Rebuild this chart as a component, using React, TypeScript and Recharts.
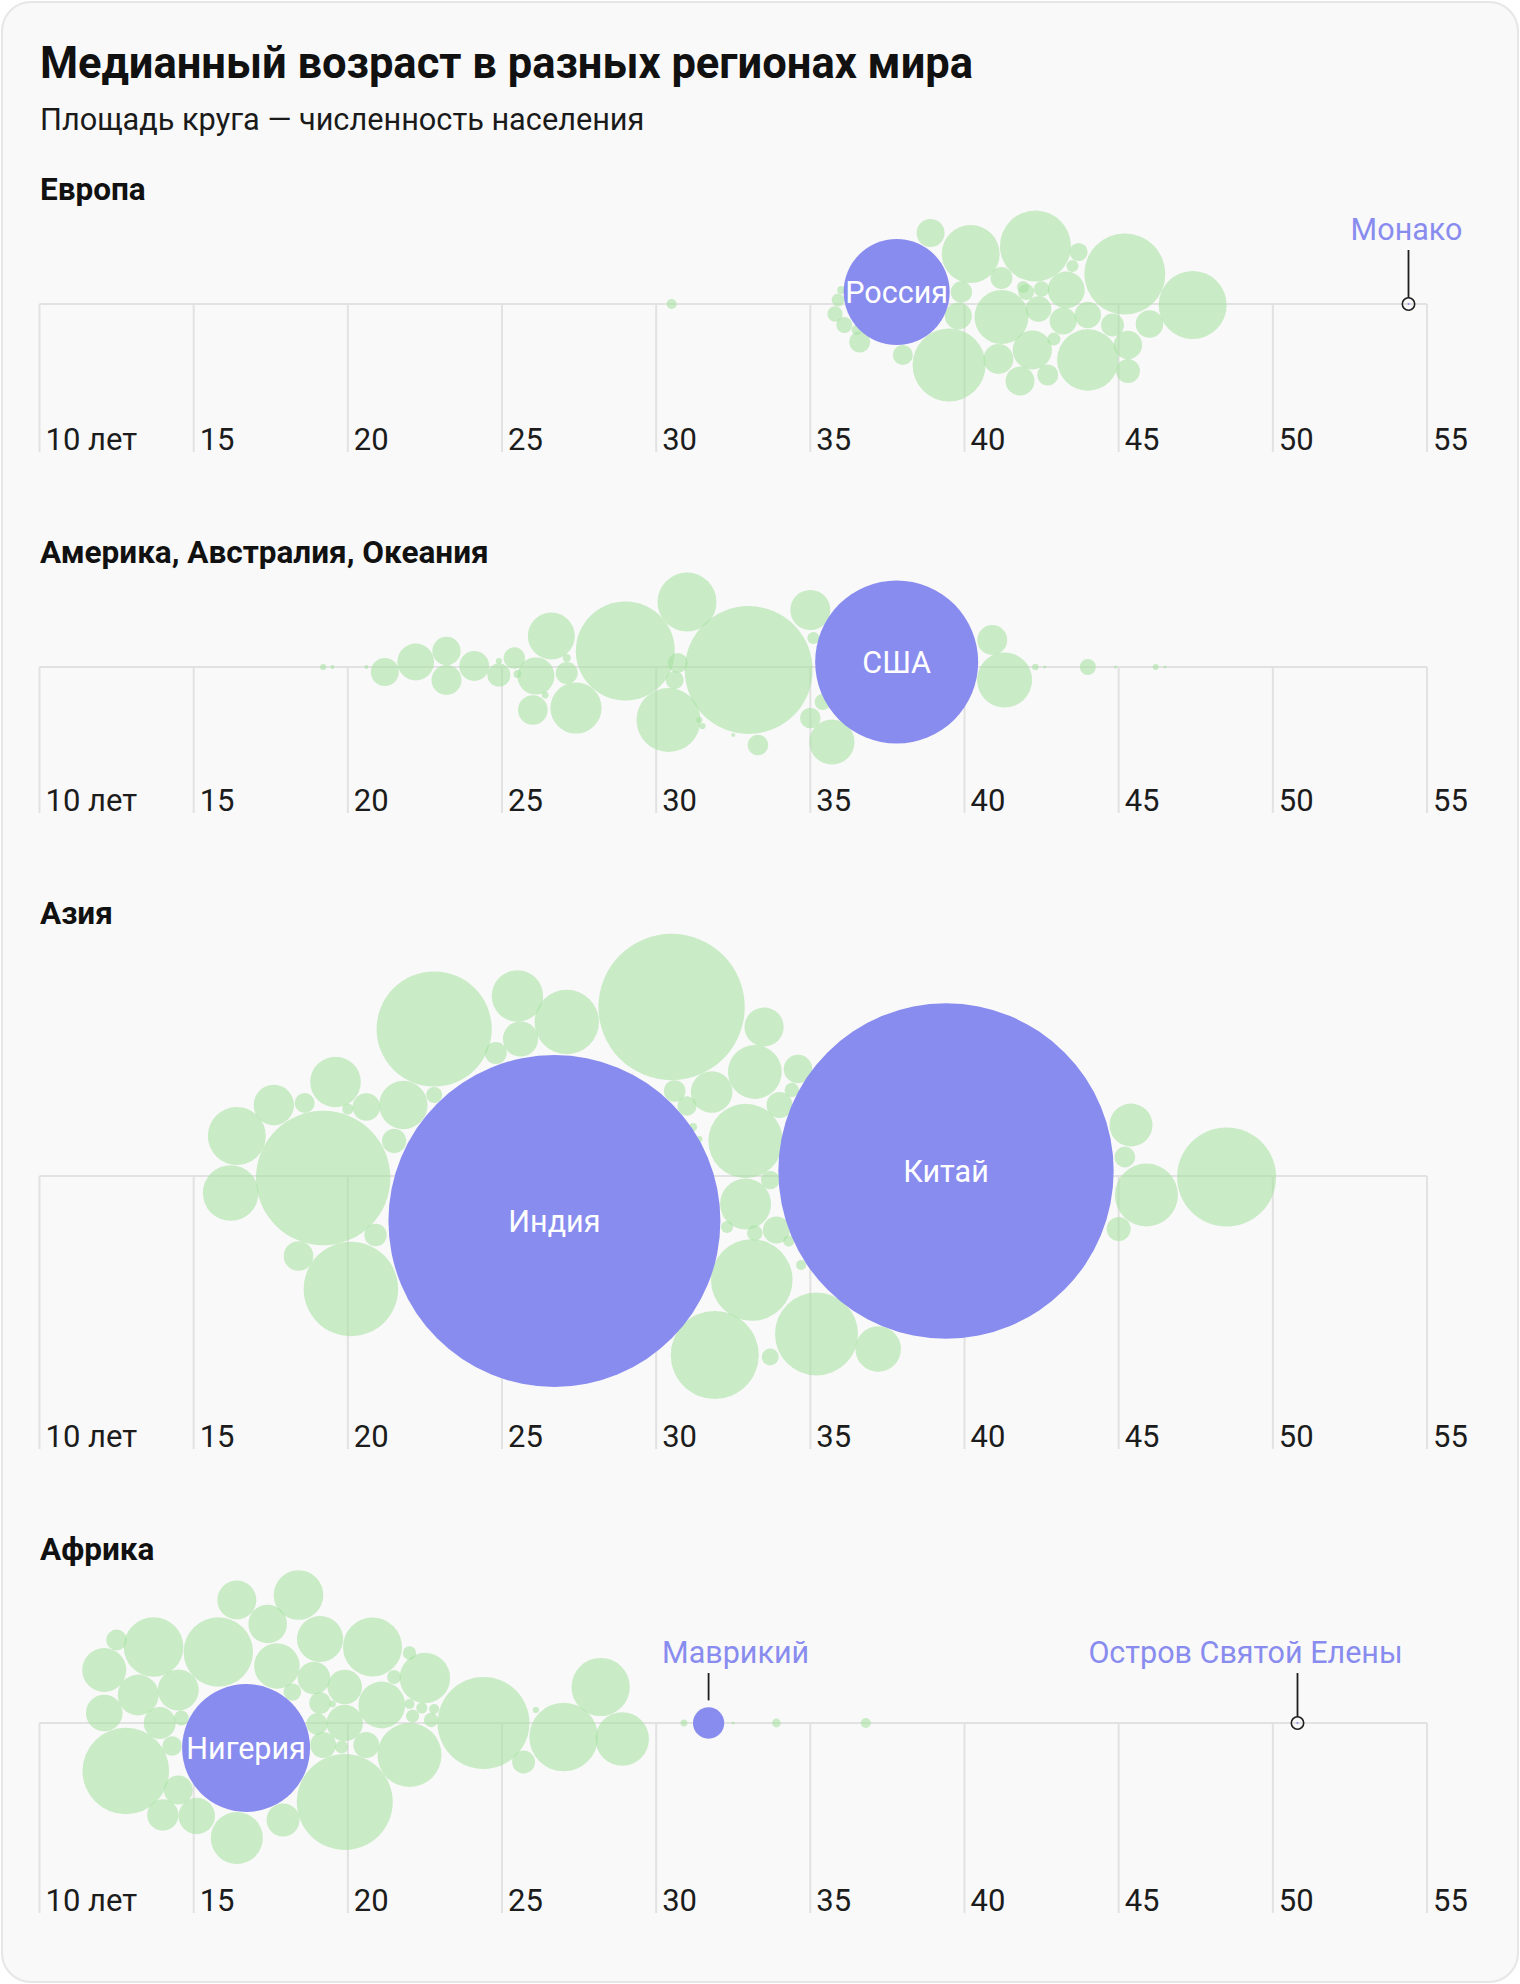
import React from "react";
import { ScatterChart, Scatter, XAxis, YAxis, ZAxis, ReferenceLine } from "recharts";

// Медианный возраст, смещение в «рое» (над осью — плюс), население, млн
type Bubble = [number, number, number];

const ticks = [10, 15, 20, 25, 30, 35, 40, 45, 50, 55];
const tickLabels = ["10 лет", "15", "20", "25", "30", "35", "40", "45", "50", "55"];

const europe: Bubble[] = [
  [38.9, 71, 10.1], [40.2, 50, 43.4], [42.3, 58, 65], [43.7, 52, 4.2], [43.5, 38, 1.9],
  [45.2, 30, 84.6], [47.4, -1, 59.6], [41.2, 26, 6.2], [41.9, 17, 1.9], [42.0, 12, 3.3],
  [42.5, 15, 3.1], [43.3, 14, 17.7], [39.9, 12, 5.9], [39.8, -12, 9.4], [41.2, -13, 37.6],
  [42.4, -5, 8.5], [43.2, -17, 9.4], [44.0, -11, 9.0], [44.8, -21, 6.8], [46.0, -20, 9.8],
  [45.3, -41, 10.4], [45.3, -67, 7.4], [44.0, -56, 48.6], [42.2, -46, 19.8], [41.1, -55, 11.6],
  [41.8, -77, 10.8], [42.7, -71, 5.7], [42.9, -35, 2.2], [39.5, -61, 68.7], [38.0, -51, 5.2],
  [36.6, -38, 5.7], [36.1, -21, 3.3], [35.8, -10, 3.0], [35.9, 4, 2.1], [36.0, 14, 0.8],
  [36.5, -26, 1.3], [30.5, 0, 1.3],
];

const america: Bubble[] = [
  [33.0, -3, 211], [29.0, 16, 126.4], [31.0, 65, 44.9], [30.4, -53, 52.8], [26.6, 31, 28.5],
  [27.4, -41, 33.8], [26.1, -9, 17.8], [26.0, -43, 11.3], [27.1, -6, 6.2], [35.0, 57, 20.6],
  [35.7, -75, 26.3], [35.0, -51, 5.5], [35.4, -35, 3.3], [35.1, 29, 1.9], [33.3, -78, 5.5],
  [40.9, 27, 11.6], [41.3, -13, 39], [30.7, 4, 5.2], [30.6, -13, 4.2], [21.2, -5, 10.1],
  [22.2, 5, 17.5], [23.2, 16, 10.3], [23.2, -13, 11.6], [24.1, 1, 11.6], [24.9, -8, 6.9],
  [25.4, 9, 5.9], [25.5, -7, 0.8], [24.9, 6, 0.5], [27.1, 9, 0.8], [26.4, -28, 0.6],
  [19.2, 0, 0.5], [19.5, 0, 0.2], [20.6, 0, 0.2], [32.5, -68, 0.2], [31.4, -53, 0.5],
  [31.5, -59, 0.5], [42.3, 0, 0.56], [42.6, 0, 0.12], [44.0, 0, 3.3], [44.9, 0, 0.12],
  [46.2, 0, 0.46], [46.5, 0, 0.12],
];

const asia: Bubble[] = [
  [30.5, 169, 276], [22.8, 147, 171], [19.2, -2, 233], [25.5, 180, 34], [27.1, 154, 53.5],
  [25.6, 137, 16], [24.8, 123, 6.2], [16.4, 40, 43.4], [16.2, -17, 39.9], [17.6, 71, 21],
  [18.6, 73, 5.2], [19.6, 94, 33], [20.0, 67, 1.6], [20.6, 69, 9.8], [21.8, 71, 30.2],
  [22.8, 81, 3.3], [21.5, 35, 7.6], [20.9, -59, 6.5], [18.4, -80, 11.3], [20.1, -113, 115],
  [30.6, 85, 6], [31.0, 70, 4.8], [31.8, 84, 22.3], [33.2, 104, 37.3], [33.5, 149, 19.8],
  [32.9, 35, 71.4], [32.9, -28, 33.5], [33.7, -4, 4.5], [33.1, -104, 85.9], [31.9, -179, 99.9],
  [33.7, -181, 3.7], [33.9, -54, 9.4], [33.2, -57, 3.1], [32.3, -51, 1.9], [31.2, 49, 0.8],
  [31.4, 37, 0.5], [34.6, 107, 10.5], [34.4, 86, 2.7], [34.0, 71, 8.7], [34.3, -65, 1.6],
  [34.7, -89, 1.3], [35.2, -158, 88.8], [37.2, -173, 26.8], [45.4, 51, 23.8], [45.2, 19, 5.6],
  [45.9, -19, 51.2], [45.0, -53, 7.4], [48.5, -1, 126.4],
];

const africa: Bubble[] = [
  [12.8, -48, 96.7], [19.9, -79, 118.8], [24.4, 0, 109], [15.8, 71, 62.1], [13.7, 76, 45.8],
  [12.1, 53, 25], [12.1, 10, 17.3], [12.5, 83, 5.6], [13.2, 28, 21.5], [14.5, 33, 21.7],
  [13.9, 0, 13.2], [14.6, 5, 2.9], [14.3, -23, 4.9], [14.5, -67, 10.8], [14.0, -92, 12.6],
  [15.1, -93, 17.1], [16.4, -115, 34.9], [17.9, -97, 14], [16.4, 123, 19.6], [17.4, 99, 19.2],
  [18.4, 128, 31.7], [17.7, 57, 26.8], [19.1, 84, 27.5], [20.8, 76, 44.9], [18.9, 45, 13.7],
  [18.2, 31, 4], [19.9, 36, 15.4], [19.1, 20, 6], [19.0, -1, 5.9], [19.9, 0, 17.1],
  [19.2, -22, 8.6], [19.8, -24, 2.2], [20.6, -22, 8.6], [21.1, 18, 28.2], [22.0, -32, 52.8],
  [22.5, 45, 32.8], [22.0, 70, 2.3], [21.5, 46, 2.5], [19.5, 19, 0.6], [22.0, 19, 1.3],
  [22.1, 7, 2.2], [22.4, 15, 1.6], [22.8, 14, 1.3], [22.7, 3, 2.7], [27.0, -14, 60.7],
  [28.2, 36, 43.7], [28.9, -16, 36.8], [25.7, -39, 6.8], [26.1, 13, 0.5], [30.9, 0, 0.6],
  [32.5, 0, 0.12], [33.9, 0, 1.0], [36.8, 0, 1.3],
];

// выделенные страны
const europeHighlight = [{ name: "Россия", age: 37.8, offset: 12, pop: 145 }];
const americaHighlight = [{ name: "США", age: 37.8, offset: 5, pop: 342.6 }];
const asiaHighlight = [
  { name: "Индия", age: 26.7, offset: -45, pop: 1421 },
  { name: "Китай", age: 39.4, offset: 5, pop: 1450 },
];
const africaHighlight = [{ name: "Нигерия", age: 16.7, offset: -25, pop: 211 }];

// подписи-выноски
const europeNotes = [{ name: "Монако", age: 54.4, offset: 0, pop: 0.04 }];
const africaNotes = [
  { name: "Маврикий", age: 31.7, offset: 0, pop: 12.6 },
  { name: "Остров Святой Елены", age: 50.8, offset: 0, pop: 0.005 },
];
const noteStyle: Record<string, { dx: number; lift: number; lineTop: number; ring: boolean }> = {
  "Монако": { dx: -2, lift: 64, lineTop: 54, ring: true },
  "Маврикий": { dx: 27, lift: 60, lineTop: 50, ring: false },
  "Остров Святой Елены": { dx: -52, lift: 60, lineTop: 50, ring: true },
};

const GREEN = "#a9e2a3";
const PURPLE = "#898cef";
const FONT = "Roboto, 'Noto Sans', sans-serif";
const W = 1520;
const MAX_POP = 1500;
const MAX_AREA = Math.PI * 166.5 * 166.5 * (MAX_POP / 1430);
const AXIS_H = 14; // место под подписи, чтобы текст не обрезался

const toRows = (b: Bubble[]) => b.map(([age, offset, pop]) => ({ age, offset, pop }));

const AgeTick = (props: any) => {
  const { x, y, payload } = props;
  const i = ticks.indexOf(payload.value);
  return (
    <text x={x + 6} y={y - 2} fontSize={31} fill="#1c1c1c" fontFamily={FONT}>
      {tickLabels[i]}
    </text>
  );
};

const HighlightShape = (props: any) => {
  const { cx, cy, size, payload } = props;
  const r = Math.sqrt(size / Math.PI);
  return (
    <g>
      <circle cx={cx} cy={cy} r={r} fill={PURPLE} />
      <text x={cx} y={cy} dy="0.35em" textAnchor="middle" fontSize={30.5} fill="#fff" fontFamily={FONT}>
        {payload.name}
      </text>
    </g>
  );
};

const NoteShape = (props: any) => {
  const { cx, cy, size, payload } = props;
  const r = Math.sqrt(size / Math.PI);
  const s = noteStyle[payload.name];
  const ringR = 6.2;
  const from = s.ring ? ringR : r + 7;
  return (
    <g>
      <circle cx={cx} cy={cy} r={Math.max(r, 1)} fill={PURPLE} />
      {s.ring && <circle cx={cx} cy={cy} r={ringR} fill="none" stroke="#1f1f1f" strokeWidth={1.6} />}
      <line x1={cx} x2={cx} y1={cy - from} y2={cy - s.lineTop} stroke="#1f1f1f" strokeWidth={1.8} />
      <text x={cx + s.dx} y={cy - s.lift} textAnchor="middle" fontSize={30.5} fill={PURPLE} fontFamily={FONT}>
        {payload.name}
      </text>
    </g>
  );
};

interface RegionProps {
  top: number;
  axis: number;
  bottom: number;
  bubbles: Bubble[];
  highlight: any[];
  notes?: any[];
}

function Region({ top, axis, bottom, bubbles, highlight, notes }: RegionProps) {
  const above = axis - top;
  const below = bottom - axis;
  return (
    <div style={{ position: "absolute", left: 0, top }}>
      <ScatterChart
        width={W}
        height={above + below + AXIS_H}
        margin={{ top: 0, right: W - 1427, bottom: 0, left: 39.5 }}
      >
        <XAxis
          type="number"
          dataKey="age"
          domain={[10, 55]}
          ticks={ticks}
          interval={0}
          axisLine={false}
          tickLine={false}
          tickSize={0}
          tickMargin={0}
          height={AXIS_H}
          tick={<AgeTick />}
        />
        <YAxis type="number" dataKey="offset" domain={[-below, above]} hide />
        <ZAxis type="number" dataKey="pop" domain={[0, MAX_POP]} range={[0, MAX_AREA]} />
        {ticks.map((t) => (
          <ReferenceLine
            key={t}
            segment={[{ x: t, y: 0 }, { x: t, y: -below }]}
            stroke="#e2e2e2"
            strokeWidth={2}
          />
        ))}
        <ReferenceLine y={0} stroke="#e2e2e2" strokeWidth={2} />
        <Scatter data={toRows(bubbles)} fill={GREEN} fillOpacity={0.6} isAnimationActive={false} />
        <Scatter data={highlight} shape={<HighlightShape />} isAnimationActive={false} />
        {notes && <Scatter data={notes} shape={<NoteShape />} isAnimationActive={false} />}
      </ScatterChart>
    </div>
  );
}

const sections = [
  { label: "Европа", labelY: 200 },
  { label: "Америка, Австралия, Океания", labelY: 563 },
  { label: "Азия", labelY: 924 },
  { label: "Африка", labelY: 1560 },
];

export default function App() {
  return (
    <div style={{ position: "absolute", left: 0, top: 0, width: W, height: 1984, background: "#fff", fontFamily: FONT }}>
      <div
        style={{
          position: "absolute",
          left: 1,
          top: 1,
          width: 1514,
          height: 1978,
          border: "2px solid #e6e6e6",
          borderRadius: 30,
          background: "#f9f9f9",
        }}
      />
      <svg width={W} height={1984} style={{ position: "absolute", left: 0, top: 0 }}>
        <text x={40} y={78} fontSize={43.5} fontWeight={700} fill="#111" fontFamily={FONT}>
          Медианный возраст в разных регионах мира
        </text>
        <text x={40} y={130} fontSize={30.7} fill="#1a1a1a" fontFamily={FONT}>
          Площадь круга — численность населения
        </text>
        {sections.map((s) => (
          <text key={s.label} x={40} y={s.labelY} fontSize={31.5} fontWeight={700} fill="#111" fontFamily={FONT}>
            {s.label}
          </text>
        ))}
      </svg>
      <Region top={205} axis={304} bottom={452} bubbles={europe} highlight={europeHighlight} notes={europeNotes} />
      <Region top={568} axis={667} bottom={813} bubbles={america} highlight={americaHighlight} />
      <Region top={928} axis={1176} bottom={1449} bubbles={asia} highlight={asiaHighlight} />
      <Region top={1565} axis={1723} bottom={1913} bubbles={africa} highlight={africaHighlight} notes={africaNotes} />
    </div>
  );
}
